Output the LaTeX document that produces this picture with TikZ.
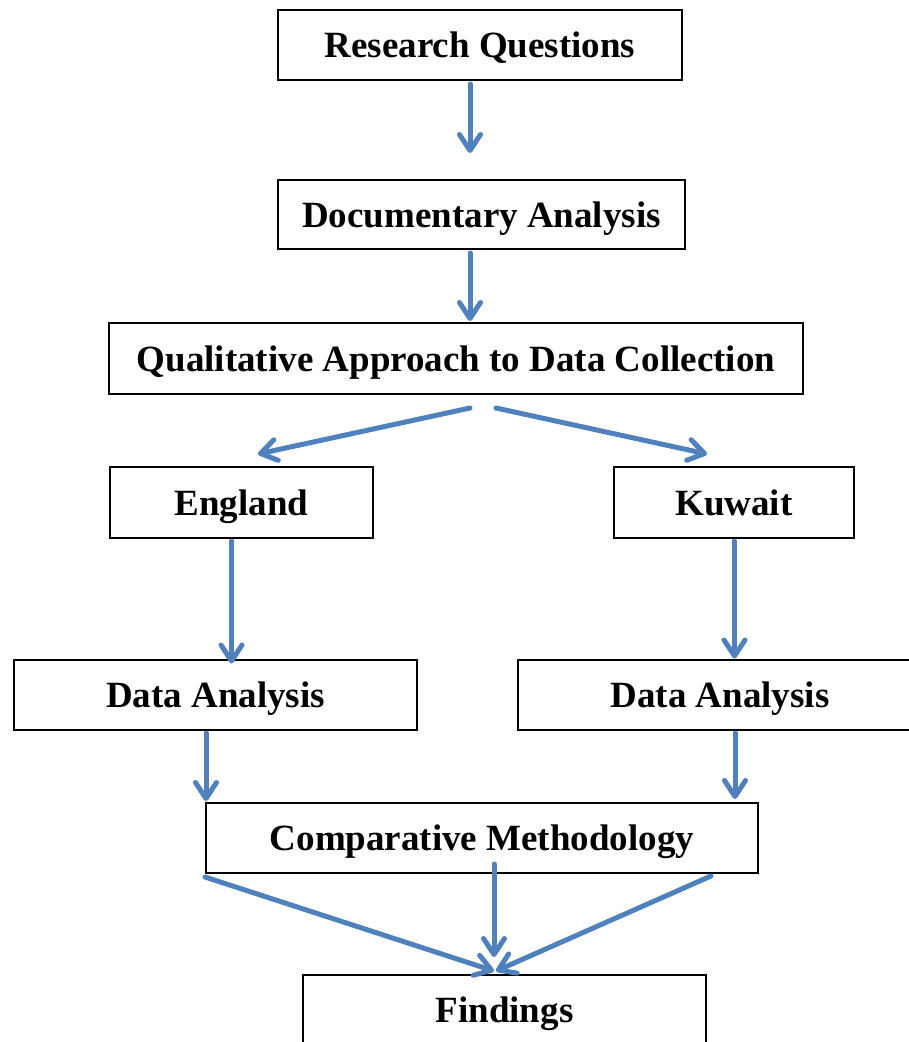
\documentclass[tikz,border=0pt]{standalone}
\usepackage{fontspec}
\setmainfont{Liberation Serif}
\usetikzlibrary{arrows.meta}
\definecolor{arrblue}{RGB}{79,129,189}
\tikzset{
  box/.style={draw=black, line width=2bp, rectangle, align=center, inner sep=0pt,
    text height=25bp, text depth=0bp,
    font=\fontsize{37bp}{40bp}\selectfont\bfseries, fill=white},
  arr/.style={draw=arrblue, line width=5bp, line cap=round, line join=round,
    -{Straight Barb[length=16bp,width=21bp,line cap=round,line join=round]}}
}
\begin{document}
\begin{tikzpicture}[x=1bp,y=-1bp]
\useasboundingbox (0,0) rectangle (909,1042);
\fill[white] (0,0) rectangle (909,1042);
\node[box, minimum width=404bp, minimum height=70bp] (rq) at (480,45) {Research Questions};
\node[box, minimum width=407bp, minimum height=69bp] (da) at (481.5,214.5) {Documentary Analysis};
\node[box, minimum width=694bp, minimum height=71bp] (qa) at (456,358.5) {Qualitative Approach to Data Collection};
\node[box, minimum width=263bp, minimum height=71bp] (en) at (241.5,502.5) {England};
\node[box, minimum width=240bp, minimum height=71bp] (ku) at (734,502.5) {Kuwait};
\node[box, minimum width=403bp, minimum height=70bp] (dl) at (215.5,694.5) {Data Analysis};
\node[box, minimum width=404bp, minimum height=70bp] (dr) at (720,694.5) {Data Analysis};
\node[box, minimum width=552bp, minimum height=70bp] (cm) at (482,838) {Comparative Methodology};
\node[box, minimum width=403bp, minimum height=70bp] (fi) at (504.5,1010) {Findings};

\draw[arr] ([shift={(-10,3)}]rq.south) -- ([shift={(-11.5,-26)}]da.north);
\draw[arr] ([shift={(-11.5,3)}]da.south) -- ([shift={(14,-1)}]qa.north);
\draw[arr] ([shift={(14,13)}]qa.south) -- ([shift={(16.5,-12)}]en.north);
\draw[arr] ([shift={(40,13)}]qa.south) -- ([shift={(-27,-12)}]ku.north);
\draw[arr] ([shift={(-10,2)}]en.south) -- ([shift={(16,5)}]dl.north);
\draw[arr] ([shift={(0.5,2)}]ku.south) -- ([shift={(14.5,0)}]dr.north);
\draw[arr] ([shift={(-9.5,2.5)}]dl.south) -- ([shift={(-276,-1)}]cm.north);
\draw[arr] ([shift={(15,2.5)}]dr.south) -- ([shift={(253,-3)}]cm.north);
\draw[arr] ([shift={(0,3)}]cm.south west) -- ([shift={(-10.5,-3)}]fi.north);
\draw[arr] ([shift={(12,-10)}]cm.south) -- ([shift={(-10.5,-17)}]fi.north);
\draw[arr] ([shift={(-48,2)}]cm.south east) -- ([shift={(-8.5,-3)}]fi.north);
\end{tikzpicture}
\end{document}
